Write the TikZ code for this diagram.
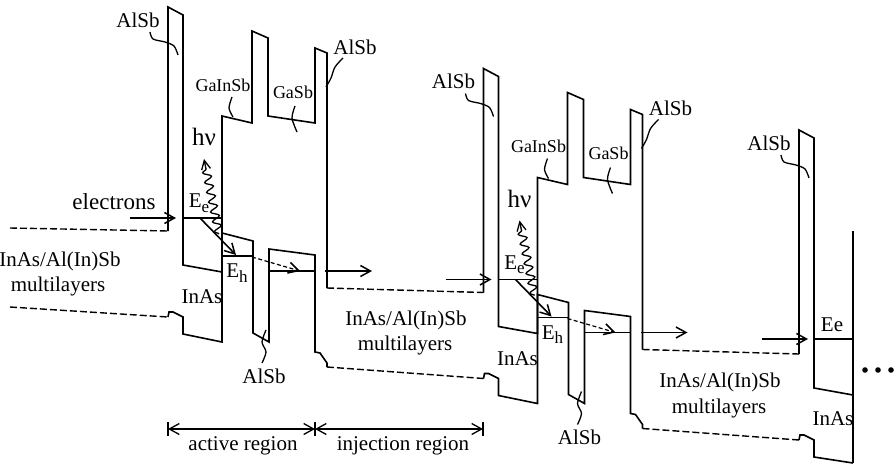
\documentclass[tikz,border=0pt]{standalone}
\usepackage{fontspec}
\setmainfont{Liberation Serif}
\usetikzlibrary{arrows.meta,decorations.pathmorphing}
\tikzset{
 band/.style={line width=1.6pt, line join=miter},
 inj/.style={line width=1.4pt, dash pattern=on 7pt off 3pt},
 lvl/.style={line width=1.5pt},
 arr/.style={line width=1.6pt, -{Straight Barb[length=10pt,width=11pt,line width=1.5pt]}},
 lbl/.style={font=\fontsize{21}{21}\selectfont, inner sep=0pt},
 slbl/.style={font=\fontsize{18}{18}\selectfont, inner sep=0pt},
 lead/.style={line width=1.3pt},
 photon/.style={line width=1.3pt, decorate, decoration={snake, amplitude=4pt, segment length=10pt, post length=9pt}, -{Straight Barb[length=9pt,width=9pt,line width=1.3pt]}},
 regarr/.style={line width=1.3pt, {Straight Barb[length=10pt,width=11pt]}-{Straight Barb[length=10pt,width=11pt]}},
}
\newcommand\subE[1]{E\raisebox{-4.5pt}{\fontsize{17}{17}\selectfont #1}}
\newcommand\periodbody[1]{%
 \draw[band] (168,231) -- (168,7) -- (183,15) -- (183,265) -- (222,272) -- (222,116) -- (252,123) -- (252,31) -- (268,38) -- (268,116) -- (315,123) -- (315,48) -- (327,53) -- (327,288);
 \draw[inj] (327,288) -- (483.5,292.5);
 \draw[band] (168,317) -- (169,312) -- (173,312) -- (183,317) -- (183,334) -- (222,342) -- (222,233) -- (253,241) -- (253,333) -- (269,342) -- (269,249) -- (315,255) -- (315,352) -- (320,353) -- (327,363) -- (327,367);
 \draw[inj] (327,367) -- (483.5,378.5);
 \draw[lvl] (183,218) -- (222,218);
 \draw[lvl] (222,256) -- (252,256);
 \draw[lvl] (269,271) -- (315,271);
 \coordinate (eein#1) at (130,218);
 \coordinate (eeend#1) at (176,218);
 \draw[arr] (eein#1) -- (eeend#1);
 \coordinate (ee0#1) at (200,218);
 \coordinate (eh0#1) at (236,255);
 \draw[arr] (ee0#1) -- (eh0#1);
 \coordinate (eh1#1) at (252,257);
 \coordinate (gs1#1) at (300,271);
 \draw[arr, dash pattern=on 4pt off 2.5pt, line width=1.2pt] (eh1#1) -- (gs1#1);
 \coordinate (gs2#1) at (325,271);
 \coordinate (gs3#1) at (372,271);
 \draw[arr] (gs2#1) -- (gs3#1);
 \coordinate (ph0#1) at (219,234);
 \coordinate (ph1#1) at (204,159);
 \draw[photon] (ph0#1) -- (ph1#1);
 \node[font=\fontsize{25}{25}\selectfont, inner sep=0pt] (hv#1) at (204,137) {hν};
 \node[lbl] (ee#1) at (199,203) {\subE{e}};
 \node[lbl] (eh#1) at (237,273) {\subE{h}};
 \node[lbl] (inas#1) at (202,297) {InAs};
 \node[lbl] (alsbA#1) at (138,20) {AlSb};
 \draw[lead] plot[smooth] coordinates {(150,32) (153,39) (165,42) (174,46) (178,55)};
 \node[slbl] (gainsb#1) at (223,85) {GaInSb};
 \draw[lead] plot[smooth] coordinates {(232,97) (229,108) (233,117)};
 \node[slbl] (gasb#1) at (293,92) {GaSb};
 \draw[lead] plot[smooth] coordinates {(295,106) (292,118) (297,132)};
 \node[lbl] (alsbB#1) at (355,47) {AlSb};
 \draw[lead] plot[smooth] coordinates {(343,58) (335,67) (331,78) (326,87)};
 \node[lbl] (alsbC#1) at (264,376) {AlSb};
 \draw[lead] plot[smooth] coordinates {(266,330) (262,342) (266,352) (262,363)};
}
\begin{document}
\begin{tikzpicture}[x=1pt,y=-1pt]
\useasboundingbox (0,0) rectangle (894,466);
% left injector
\draw[inj] (10,228) -- (168,231);
\draw[inj] (10,307) -- (168,317);
\node[font=\fontsize{23}{23}\selectfont, inner sep=0pt] (electrons) at (114,202) {electrons};
\node[lbl] (multL1) at (60,261) {InAs/Al(In)Sb};
\node[lbl] (multL2) at (58,286) {multilayers};
% periods
\begin{scope}\periodbody{a}\end{scope}
\begin{scope}[shift={(315.5,61.5)}]\periodbody{b}\end{scope}
\node[lbl] (multM1) at (406,320) {InAs/Al(In)Sb};
\node[lbl] (multM2) at (405,345) {multilayers};
\node[lbl] (multR1) at (720,382) {InAs/Al(In)Sb};
\node[lbl] (multR2) at (719,408) {multilayers};
% partial third period
\begin{scope}[shift={(631,123)}]
 \draw[band] (168,231) -- (168,7) -- (183,15) -- (183,265) -- (222,272);
 \draw[band] (222,108) -- (222,340);
 \draw[band] (168,317) -- (169,312) -- (173,312) -- (183,317) -- (183,334) -- (222,340);
 \draw[lvl] (183,216) -- (222,216);
 \coordinate (eeinc) at (131,216);
 \coordinate (eeendc) at (177,216);
 \draw[arr] (eeinc) -- (eeendc);
 \node[lbl] (eec) at (201,202) {Ee};
 \node[lbl] (inasc) at (202,296) {InAs};
 \node[lbl] (alsbAc) at (138,20) {AlSb};
 \draw[lead] plot[smooth] coordinates {(150,32) (153,39) (165,42) (174,46) (178,55)};
\end{scope}
% dots
\fill (865,370) circle (2.8pt);
\fill (878,370) circle (2.8pt);
\fill (891,370) circle (2.8pt);
% regions
\coordinate (r0) at (168,429);
\coordinate (r1) at (315,429);
\coordinate (r2) at (483,429);
\draw[line width=1.3pt] (168,422) -- (168,436);
\draw[line width=1.3pt] (315,422) -- (315,436);
\draw[line width=1.3pt] (483,422) -- (483,436);
\draw[regarr] (r0) -- (r1);
\draw[regarr] (r1) -- (r2);
\node[lbl] (active) at (243,446) {active region};
\node[lbl] (inject) at (403,446) {injection region};
\end{tikzpicture}
\end{document}
